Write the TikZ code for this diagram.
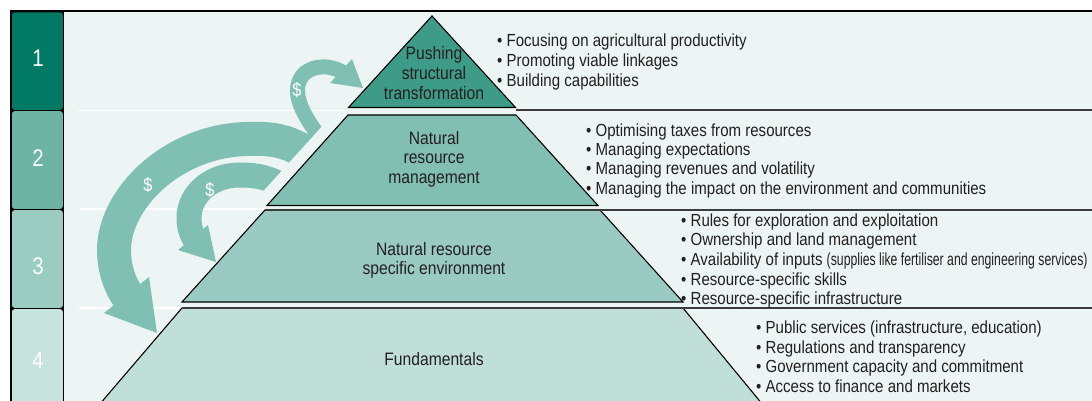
\documentclass[tikz,border=0pt]{standalone}
\usepackage{fontspec}
\setmainfont{Liberation Sans}[FakeStretch=0.86]
\newfontfamily\labelfont{Liberation Sans}[FakeStretch=0.87]
\newfontfamily\narrowfont{Liberation Sans}[FakeStretch=0.70]
\newfontfamily\digitfont{Liberation Sans}[FakeStretch=0.85]

\definecolor{ink}{HTML}{231F20}
\definecolor{pagebg}{HTML}{ECF5F3}
\definecolor{boxone}{HTML}{007A64}
\definecolor{boxtwo}{HTML}{6DB4A5}
\definecolor{boxthree}{HTML}{9ACCC2}
\definecolor{boxfour}{HTML}{C6E3DD}
\definecolor{tierone}{HTML}{3E9B88}
\definecolor{tiertwo}{HTML}{80BFB2}
\definecolor{tierthree}{HTML}{9ACBC2}
\definecolor{tierfour}{HTML}{C0DFD9}
\definecolor{flowgreen}{HTML}{80C0B3}
\definecolor{rulegray}{HTML}{3C3C3C}

\begin{document}
\begin{tikzpicture}[x=1pt,y=-1pt,
  item/.style={anchor=base west, inner sep=0pt, text=ink,
    font=\fontsize{17.5}{19}\selectfont},
  tierlabel/.style={anchor=base, inner sep=0pt, text=ink,
    font=\labelfont\fontsize{18}{20}\selectfont},
  tiernum/.style={anchor=base, inner sep=0pt, text=white,
    font=\digitfont\fontsize{24}{24}\selectfont},
  money/.style={inner sep=0pt, text=white, font=\fontsize{19}{19}\selectfont},
  flow/.style={draw=flowgreen, line cap=butt, line join=round},
  flowhead/.style={fill=flowgreen},
  tier/.style={draw=black, line width=1.1pt, line join=miter},
  sepwhite/.style={draw=white, line width=1.4pt},
  sepgray/.style={draw=rulegray, line width=2pt}
]
\useasboundingbox (0,0) rectangle (1092,401);
\clip (0,0) rectangle (1092,401);

% page and panel background
\fill[white] (0,0) rectangle (1092,401);
\fill[pagebg] (63,12) rectangle (1092,401);

% faint separators on the left of the pyramid
\draw[sepwhite] (78,110.5) -- (348,110.5);
\draw[sepwhite] (80,209) -- (266,209);
\draw[sepwhite] (79,308) -- (182,308);

% money flows; tails are trimmed parallel to the pyramid flank
\begin{scope}
  \clip (0,0) -- (1092,0) -- (1092,100) -- (345.6,100) -- (241.5,215)
        -- (1092,215) -- (1092,401) -- (0,401) -- cycle;
  % large flow down to the fundamentals
  \draw[flow, line width=34pt]
    (305,152) .. controls (285,140) and (270,138) .. (245,139)
    .. controls (170,142) and (114,200) .. (114,250)
    .. controls (114,268) and (120,287) .. (130,299);
  % medium flow down to the specific environment
  \draw[flow, line width=25pt]
    (285,187) .. controls (270,178) and (258,175) .. (240,175)
    .. controls (210,175) and (189,195) .. (189,218)
    .. controls (189,228) and (192,236) .. (197,242);
  % small loop up to structural transformation
  \draw[flow, line width=15pt]
    (322,140) .. controls (305,118) and (295,100) .. (298,85)
    .. controls (301,71) and (314,66) .. (327,67)
    .. controls (334,68) and (340,70) .. (345,74);
\end{scope}
\fill[flowhead] (104,313) -- (149,277) -- (157,333) -- cycle;
\fill[flowhead] (178,250) -- (208,225) -- (216,262) -- cycle;
\fill[flowhead] (352,59) -- (330,83) -- (363,88) -- cycle;

\node[money] (m1) at (297,90) {\$};
\node[money] (m2) at (148,185) {\$};
\node[money] (m3) at (210,190) {\$};

% pyramid tiers
\filldraw[tier, fill=tierone] (432,16) -- (515.5,107.5) -- (348.5,107.5) -- cycle;
\filldraw[tier, fill=tiertwo] (348,115) -- (516,115) -- (598,205.5) -- (267,205.5) -- cycle;
\filldraw[tier, fill=tierthree] (265,210) -- (600,210) -- (683,302) -- (182,302) -- cycle;
\filldraw[tier, fill=tierfour] (182,308) -- (683,308) -- (763,405) -- (99,405) -- cycle;

% rules running to the right edge
\draw[sepgray] (515.5,110.5) -- (1092,110.5);
\draw[sepgray] (265,210) -- (1092,210);
\draw[sepgray] (182,308) -- (1092,308);

% tier labels
\node[tierlabel] (t1a) at (434,60) {Pushing};
\node[tierlabel] (t1b) at (434,80) {structural};
\node[tierlabel] (t1c) at (434,100) {transformation};
\node[tierlabel] (t2a) at (434,144) {Natural};
\node[tierlabel] (t2b) at (434,164) {resource};
\node[tierlabel] (t2c) at (434,183.5) {management};
\node[tierlabel] (t3a) at (434,255) {Natural resource};
\node[tierlabel] (t3b) at (434,274) {specific environment};
\node[tierlabel] (t4a) at (434,365) {Fundamentals};

% bullet lists
\node[item] (p11) at (497,47) {\textbullet\ Focusing on agricultural productivity};
\node[item] (p12) at (497,67) {\textbullet\ Promoting viable linkages};
\node[item] (p13) at (497,87) {\textbullet\ Building capabilities};

\node[item] (p21) at (586,136) {\textbullet\ Optimising taxes from resources};
\node[item] (p22) at (586,155.3) {\textbullet\ Managing expectations};
\node[item] (p23) at (586,174.6) {\textbullet\ Managing revenues and volatility};
\node[item] (p24) at (586,194) {\textbullet\ Managing the impact on the environment and communities};

\node[item] (p31) at (681,226) {\textbullet\ Rules for exploration and exploitation};
\node[item] (p32) at (681,245.7) {\textbullet\ Ownership and land management};
\node[item] (p33) at (681,265.4) {\textbullet\ Availability of inputs {\narrowfont(supplies like fertiliser and engineering services)}};
\node[item] (p34) at (681,285.1) {\textbullet\ Resource-specific skills};
\node[item] (p35) at (681,304.8) {\textbullet\ Resource-specific infrastructure};

\node[item] (p41) at (756,333.3) {\textbullet\ Public services (infrastructure, education)};
\node[item] (p42) at (756,353) {\textbullet\ Regulations and transparency};
\node[item] (p43) at (756,372.6) {\textbullet\ Government capacity and commitment};
\node[item] (p44) at (756,392.2) {\textbullet\ Access to finance and markets};

% numbered column on the left
\fill[black] (10,10) rectangle (64,401);
\fill[black] (10,10) rectangle (1092,12.5);
\fill[boxone, rounded corners=2.5pt] (12,12.5) rectangle (62.8,109.8);
\fill[boxtwo, rounded corners=2.5pt] (12,111.2) rectangle (62.8,208.8);
\fill[boxthree, rounded corners=2.5pt] (12,210.2) rectangle (62.8,307.8);
\fill[boxfour, rounded corners=2.5pt] (12,309.2) rectangle (62.8,412);
\node[tiernum] (n1) at (38,67) {1};
\node[tiernum] (n2) at (38,166) {2};
\node[tiernum] (n3) at (38,274) {3};
\node[tiernum] (n4) at (38,368) {4};
\end{tikzpicture}
\end{document}
